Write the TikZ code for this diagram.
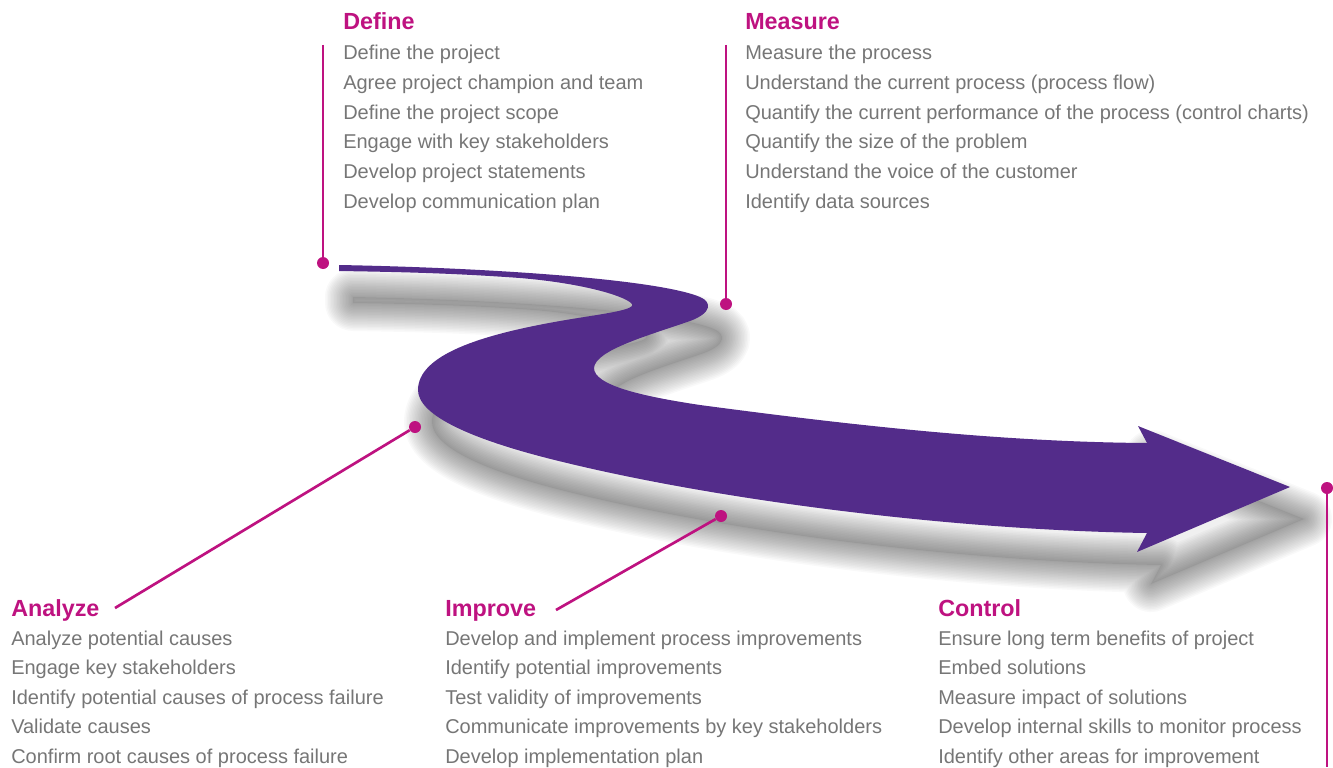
\documentclass[tikz,border=0pt]{standalone}
\usepackage{fontspec}
\setmainfont{Liberation Sans}
\definecolor{road}{RGB}{83,44,138}
\definecolor{dmaic}{RGB}{190,18,128}
\definecolor{taskgrey}{RGB}{118,118,118}

% outline of the road arrow, in pixel units
\newcommand{\roadshape}{(339,265) .. controls (500,268) and (660,280) .. (700,297)
  .. controls (712,302) and (712,313) .. (690,321)
  .. controls (650,335) and (595,350) .. (594,368)
  .. controls (594,385) and (640,396) .. (700,405)
  .. controls (850,425) and (1000,442) .. (1147,443)
  -- (1138,426) -- (1290,487) -- (1137,552) -- (1147,533)
  .. controls (950,530) and (720,500) .. (567,463)
  .. controls (470,440) and (418,415) .. (418,390)
  .. controls (418,355) and (480,335) .. (560,321)
  .. controls (600,314) and (640,310) .. (631,303)
  .. controls (622,295) and (580,283) .. (520,278)
  .. controls (450,273) and (400,272) .. (339,271) -- cycle}

\tikzset{
  phase/.style={anchor=base west, inner sep=0pt, text=dmaic,
    font=\fontsize{17.5}{20}\selectfont\bfseries},
  task/.style={anchor=base west, inner sep=0pt, text=taskgrey,
    font=\fontsize{15}{18}\selectfont},
  lead/.style={dmaic, line width=2pt},
  pin/.style={circle, fill=dmaic, inner sep=0pt, minimum size=9pt},
}

\begin{document}
\begin{tikzpicture}[x=0.75pt,y=-0.75pt]
  \useasboundingbox (0,0) rectangle (1333,767);

  % shadow
  \begin{scope}[shift={(14,32)}]
    \foreach \w in {56,53,...,2}
      \draw[black, opacity=0.022, line width={\w*0.75pt}, line join=round] \roadshape;
    \fill[black, opacity=0.06] \roadshape;
  \end{scope}
  % road
  \fill[road] \roadshape;

  % define
  \node[phase] (define) at (343,29.5) {Define};
  \foreach \t [count=\i] in {Define the project, Agree project champion and team,
      Define the project scope, Engage with key stakeholders,
      Develop project statements, Develop communication plan}
    \node[task] (def\i) at (343,{60+29.6*(\i-1)}) {\t};
  \coordinate (deftop) at (323,45);
  \node[pin] (defpin) at (323,263) {};
  \draw[lead] (deftop) -- (defpin);

  % measure
  \node[phase] (measure) at (745,29.5) {Measure};
  \foreach \t [count=\i] in {Measure the process,
      Understand the current process (process flow),
      Quantify the current performance of the process (control charts),
      Quantify the size of the problem, Understand the voice of the customer,
      Identify data sources}
    \node[task] (mea\i) at (745,{60+29.6*(\i-1)}) {\t};
  \coordinate (meatop) at (726,45);
  \node[pin] (meapin) at (726,304) {};
  \draw[lead] (meatop) -- (meapin);

  % analyze
  \node[phase] (analyze) at (11,616) {Analyze};
  \foreach \t [count=\i] in {Analyze potential causes, Engage key stakeholders,
      Identify potential causes of process failure, Validate causes,
      Confirm root causes of process failure}
    \node[task] (ana\i) at (11,{645+29.6*(\i-1)}) {\t};
  \coordinate (anaend) at (115,608);
  \node[pin] (anapin) at (415,427) {};
  \draw[lead] (anaend) -- (anapin);

  % improve
  \node[phase] (improve) at (445,616) {Improve};
  \foreach \t [count=\i] in {Develop and implement process improvements,
      Identify potential improvements, Test validity of improvements,
      Communicate improvements by key stakeholders,
      Develop implementation plan}
    \node[task] (imp\i) at (445,{645+29.6*(\i-1)}) {\t};
  \coordinate (impend) at (556,610);
  \node[pin] (imppin) at (721,516) {};
  \draw[lead] (impend) -- (imppin);

  % control
  \node[phase] (control) at (938,616) {Control};
  \foreach \t [count=\i] in {Ensure long term benefits of project,
      Embed solutions, Measure impact of solutions,
      Develop internal skills to monitor process,
      Identify other areas for improvement}
    \node[task] (con\i) at (938,{645+29.6*(\i-1)}) {\t};
  \node[pin] (conpin) at (1327,488) {};
  \coordinate (conbot) at (1327,767);
  \draw[lead] (conpin) -- (conbot);
\end{tikzpicture}
\end{document}
